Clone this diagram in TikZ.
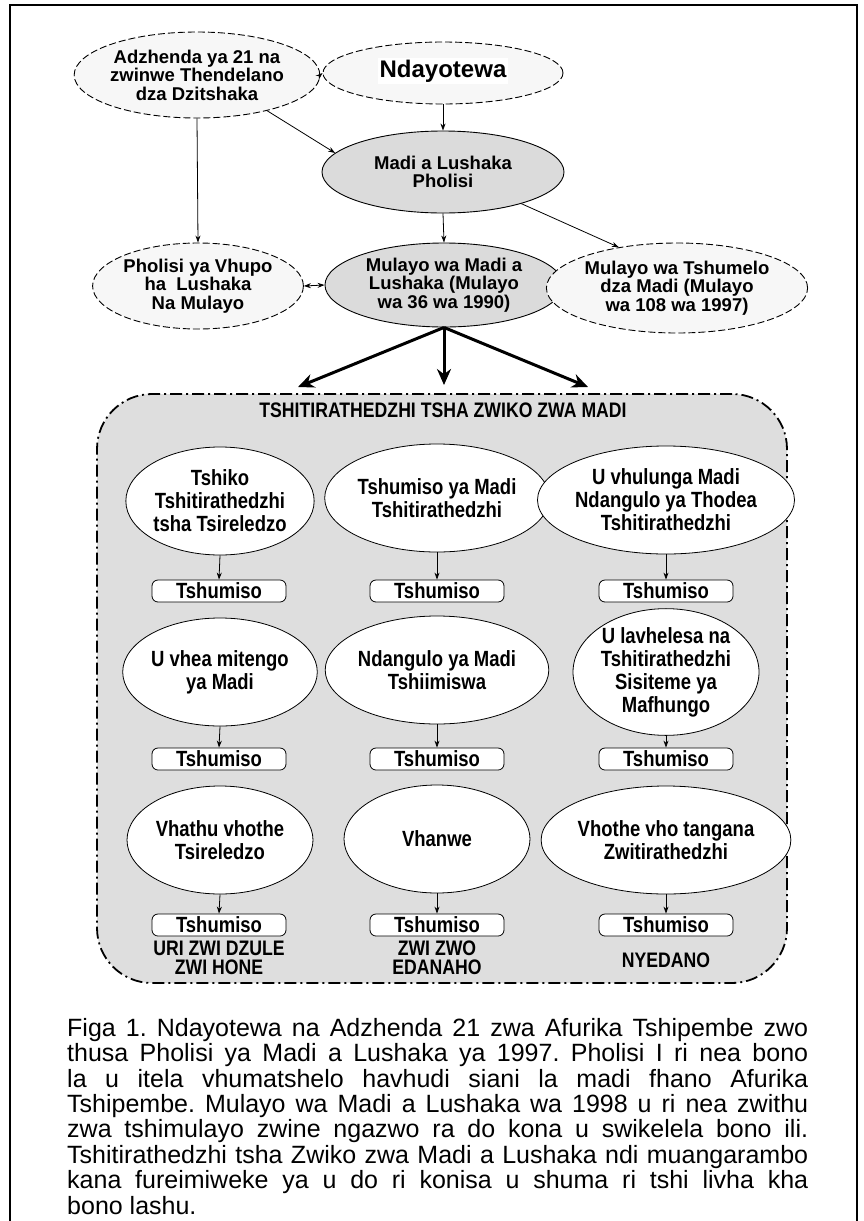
\documentclass[tikz,border=0pt]{standalone}
\usepackage{fontspec}
\setmainfont{Liberation Sans}
\newfontfamily\narrowfont[FakeStretch=0.84]{Liberation Sans}
\usetikzlibrary{shapes.geometric,arrows.meta}
\newcommand\topfnt{\fontsize{18.5}{18.5}\selectfont\bfseries}
\newcommand\infnt{\narrowfont\fontsize{22}{23}\selectfont\bfseries}
\tikzset{
  topell/.style={ellipse, draw, line width=0.9pt, inner sep=0pt, align=center, font=\topfnt},
  dashell/.style={topell, dash pattern=on 7pt off 3pt, fill=black!3},
  grayell/.style={topell, fill=black!14},
  inell/.style={ellipse, draw, fill=white, line width=0.8pt, minimum width=186pt, minimum height=108pt, inner sep=0pt, align=center, font=\infnt},
  tbox/.style={rectangle, rounded corners=6pt, draw, fill=white, line width=0.8pt, minimum width=134pt, minimum height=22pt, inner sep=0pt, font=\infnt},
  lab/.style={align=center, inner sep=0pt, font=\narrowfont\fontsize{21}{19}\selectfont\bfseries},
  thinarr/.style={-{Stealth[length=7pt,width=5pt]}, line width=0.8pt},
  dblarr/.style={{Stealth[length=7pt,width=5pt]}-{Stealth[length=7pt,width=5pt]}, line width=0.8pt},
  thickarr/.style={-{Stealth[length=16pt,width=14pt]}, line width=3pt},
  bigbox/.style={rectangle, rounded corners=55pt, draw, line width=1.8pt, dash pattern=on 12pt off 4pt on 2pt off 4pt, fill=black!13, minimum width=690pt, minimum height=589pt, inner sep=0pt},
}
\begin{document}
\begin{tikzpicture}[x=1pt,y=-1pt]
\useasboundingbox (0,0) rectangle (864,1221);
\fill[white] (0,0) rectangle (864,1221);
\draw[line width=1.5pt] (10,1221) -- (10,5) -- (857,5) -- (857,1221);

% top part
\node[dashell, minimum width=200pt, minimum height=86pt] (adz) at (197,75) {Adzhenda ya 21 na\\zwinwe Thendelano\\dza Dzitshaka};
\node[dashell, minimum width=240pt, minimum height=62pt] (nday) at (443,73) {};
\node[fill=white, inner sep=2pt, font=\fontsize{24}{24}\selectfont\bfseries] (ndaytxt) at (443,71) {Ndayotewa};
\node[grayell, minimum width=242pt, minimum height=82pt] (madi) at (443,172) {Madi a Lushaka\\Pholisi};
\node[dashell, minimum width=198pt, minimum height=86pt] (pholisi) at (198,286) {Pholisi ya Vhupo\\ha\ \ Lushaka\\Na Mulayo};
\node[grayell, minimum width=238pt, minimum height=84pt] (mulayo) at (444,285) {Mulayo wa Madi a\\Lushaka (Mulayo\\wa 36 wa 1990)};
\node[dashell, minimum width=204pt, minimum height=90pt] (tshum) at (677,288) {Mulayo wa Tshumelo\\dza Madi (Mulayo\\wa 108 wa 1997)};

\draw[thinarr] (adz.east) -- (nday.west);
\draw[thinarr] (adz.-27) -- (madi.170);
\draw[thinarr] (adz.south) -- (pholisi.north);
\draw[thinarr] (nday.south) -- (madi.north);
\draw[thinarr] (madi.south) -- (mulayo.north);
\draw[thinarr] (madi.-22) -- (tshum.145);
\draw[dblarr] (pholisi.east) -- (mulayo.west);

% strategy box
\node[bigbox] (strat) at (442,688.5) {};
\coordinate (tl) at (298,387);
\coordinate (tm) at (444,385);
\coordinate (tr) at (588,387);
\draw[thickarr] (mulayo.south) -- (tl);
\draw[thickarr] (mulayo.south) -- (tm);
\draw[thickarr] (mulayo.south) -- (tr);
\node[lab] (title) at (443,410) {TSHITIRATHEDZHI TSHA ZWIKO ZWA MADI};

% row 1
\node[inell] (e11) at (220,501) {Tshiko\\Tshitirathedzhi\\tsha Tsireledzo};
\node[inell] (e12) at (437,498) {Tshumiso ya Madi\\Tshitirathedzhi};
\node[inell] (e13) at (666,500) {U vhulunga Madi\\Ndangulo ya Thodea\\Tshitirathedzhi};
\node[tbox] (b11) at (219,591) {Tshumiso};
\node[tbox] (b12) at (437,591) {Tshumiso};
\node[tbox] (b13) at (666,591) {Tshumiso};
% row 2
\node[inell] (e21) at (220,672) {U vhea mitengo\\ya Madi};
\node[inell] (e22) at (437,670) {Ndangulo ya Madi\\Tshiimiswa};
\node[inell] (e23) at (666,672) {U lavhelesa na\\Tshitirathedzhi\\Sisiteme ya\\Mafhungo};
\node[tbox] (b21) at (219,759) {Tshumiso};
\node[tbox] (b22) at (437,759) {Tshumiso};
\node[tbox] (b23) at (666,759) {Tshumiso};
% row 3
\node[inell] (e31) at (220,840) {Vhathu vhothe\\Tsireledzo};
\node[inell] (e32) at (437,839) {Vhanwe};
\node[inell] (e33) at (666,840) {Vhothe vho tangana\\Zwitirathedzhi};
\node[tbox] (b31) at (219,925) {Tshumiso};
\node[tbox] (b32) at (437,925) {Tshumiso};
\node[tbox] (b33) at (666,925) {Tshumiso};

\foreach \r in {1,2,3}{
  \foreach \c in {1,2,3}{
    \draw[thinarr] (e\r\c.south) -- (b\r\c.north);
  }
}

\node[lab] (l1) at (219,958) {URI ZWI DZULE\\ZWI HONE};
\node[lab] (l2) at (437,958) {ZWI ZWO\\EDANAHO};
\node[lab] (l3) at (666,960) {NYEDANO};

% caption
\node[anchor=north west, inner sep=0pt, align=left, font=\fontsize{25}{25.4}\selectfont\frenchspacing] (cap) at (67,1018) {%
\makebox[741pt][s]{Figa 1. Ndayotewa na Adzhenda 21 zwa Afurika Tshipembe zwo}\\
\makebox[741pt][s]{thusa Pholisi ya Madi a Lushaka ya 1997. Pholisi I ri nea bono}\\
\makebox[741pt][s]{la u itela vhumatshelo havhudi siani la madi fhano Afurika}\\
\makebox[741pt][s]{Tshipembe. Mulayo wa Madi a Lushaka wa 1998 u ri nea zwithu}\\
\makebox[741pt][s]{zwa tshimulayo zwine ngazwo ra do kona u swikelela bono ili.}\\
\makebox[741pt][s]{Tshitirathedzhi tsha Zwiko zwa Madi a Lushaka ndi muangarambo}\\
\makebox[741pt][s]{kana fureimiweke ya u do ri konisa u shuma ri tshi livha kha}\\
bono lashu.};
\end{tikzpicture}
\end{document}
